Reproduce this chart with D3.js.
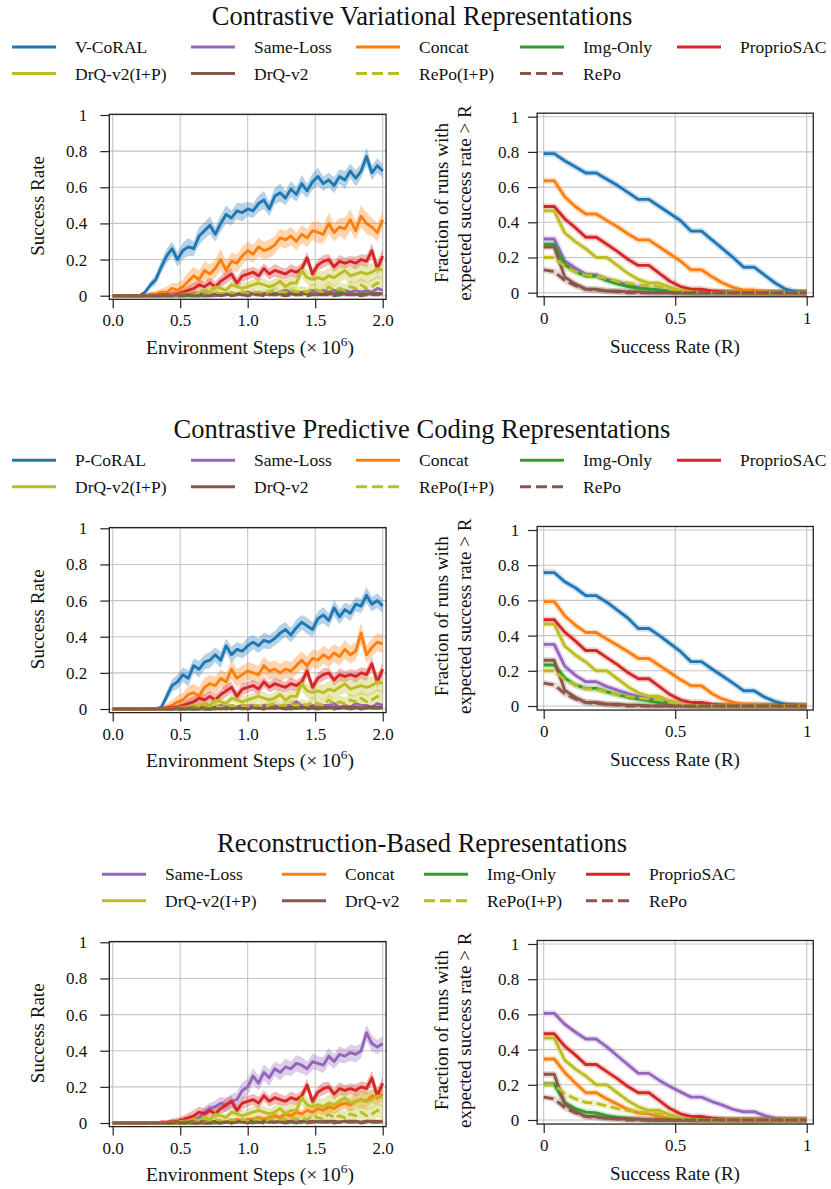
<!DOCTYPE html>
<html>
<head>
<meta charset="utf-8">
<script src="https://cdn.jsdelivr.net/npm/d3@7"></script>
<style>
body { margin: 0; background: #fff; }
text { font-family: "Liberation Serif", "Times New Roman", serif; fill: #111; }
</style>
</head>
<body>
<script>
// ---------- data ----------
const steps = [0,0.04,0.08,0.12,0.16,0.2,0.24,0.28,0.32,0.36,
  0.4,0.44,0.48,0.52,0.56,0.6,0.64,0.68,0.72,0.76,
  0.8,0.84,0.88,0.92,0.96,1,1.04,1.08,1.12,1.16,
  1.2,1.24,1.28,1.32,1.36,1.4,1.44,1.48,1.52,1.56,
  1.6,1.64,1.68,1.72,1.76,1.8,1.84,1.88,1.92,1.96,
  2];
const thresholds = [0,0.04,0.08,0.12,0.16,0.2,0.24,0.28,0.32,0.36,
  0.4,0.44,0.48,0.52,0.56,0.6,0.64,0.68,0.72,0.76,
  0.8,0.84,0.88,0.92,0.96,1];

const titles = ["Contrastive Variational Representations",
  "Contrastive Predictive Coding Representations",
  "Reconstruction-Based Representations"];

// shared baselines: learning curves
const proprioSac = [0,0,0,0,0,0,0,0,0,0.005,
  0.005,0.01,0.01,0.02,0.03,0.04,0.06,0.05,0.07,0.05,
  0.08,0.10,0.12,0.07,0.11,0.12,0.13,0.11,0.15,0.12,
  0.14,0.13,0.12,0.14,0.13,0.15,0.21,0.12,0.17,0.19,
  0.20,0.16,0.19,0.18,0.19,0.18,0.20,0.19,0.25,0.15,
  0.22];
const proprioSacSd = [0,0,0,0,0,0,0,0,0.005,0.01,
  0.01,0.015,0.02,0.02,0.025,0.03,0.03,0.03,0.03,0.03,
  0.03,0.035,0.03,0.03,0.035,0.03,0.03,0.035,0.03,0.03,
  0.035,0.03,0.03,0.035,0.03,0.03,0.035,0.03,0.03,0.035,
  0.03,0.03,0.035,0.03,0.03,0.035,0.03,0.035,0.04,0.035,
  0.04];
const drqIP = [0,0,0,0,0,0,0,0,0,0,
  0,0.005,0.005,0.01,0.01,0.02,0.015,0.03,0.02,0.05,
  0.04,0.03,0.06,0.05,0.04,0.05,0.06,0.07,0.06,0.05,
  0.06,0.08,0.05,0.07,0.07,0.14,0.10,0.09,0.10,0.09,
  0.11,0.10,0.12,0.14,0.11,0.12,0.13,0.12,0.13,0.15,
  0.14];
const drqIPSd = [0,0,0,0,0,0,0,0,0,0,
  0.005,0.005,0.01,0.01,0.01,0.015,0.015,0.02,0.02,0.02,
  0.025,0.02,0.025,0.025,0.03,0.03,0.03,0.03,0.035,0.03,
  0.035,0.035,0.035,0.035,0.04,0.04,0.04,0.04,0.04,0.045,
  0.045,0.045,0.045,0.05,0.045,0.05,0.05,0.05,0.05,0.05,
  0.05];
const repoIP = [0,0,0,0,0,0,0,0,0,0,
  0,0,0,0,0,0.005,0.01,0.005,0.01,0.02,
  0.01,0.01,0.02,0.01,0.02,0.01,0.02,0.02,0.01,0.02,
  0.03,0.02,0.02,0.03,0.02,0.03,0.02,0.04,0.03,0.02,
  0.05,0.03,0.04,0.03,0.05,0.04,0.06,0.04,0.05,0.07,
  0.06];
const repoIPSd = [0,0,0,0,0,0,0,0,0,0,
  0,0,0,0,0,0.005,0.005,0.005,0.01,0.01,
  0.01,0.01,0.01,0.01,0.015,0.015,0.015,0.015,0.02,0.02,
  0.02,0.02,0.02,0.025,0.025,0.025,0.025,0.03,0.03,0.03,
  0.03,0.03,0.035,0.035,0.035,0.035,0.04,0.04,0.04,0.04,
  0.04];
const drq = [0,0,0,0,0,0,0,0,0,0,
  0,0,0.005,0.005,0.005,0.01,0.005,0.01,0.005,0.01,
  0.01,0.005,0.01,0.01,0.005,0.01,0.01,0.005,0.01,0.01,
  0.005,0.01,0.01,0.01,0.005,0.01,0.01,0.01,0.005,0.01,
  0.01,0.01,0.005,0.01,0.01,0.01,0.005,0.01,0.01,0.01,
  0.01];
const repo = [0,0,0,0,0,0,0,0,0,0,
  0,0,0,0,0,0,0,0,0,0.005,
  0,0.005,0,0.005,0.005,0,0.005,0.005,0,0.005,
  0.005,0.005,0,0.005,0.005,0.005,0,0.005,0.005,0.005,
  0.005,0,0.005,0.005,0.005,0.005,0,0.005,0.005,0.005,
  0.005];

// row 1: contrastive variational
const vCoral = [0,0,0,0,0,0,0.02,0.06,0.09,0.16,
  0.22,0.26,0.20,0.25,0.27,0.26,0.33,0.36,0.39,0.34,
  0.40,0.45,0.43,0.47,0.46,0.48,0.47,0.51,0.53,0.48,
  0.55,0.57,0.54,0.59,0.56,0.62,0.58,0.63,0.66,0.62,
  0.64,0.61,0.66,0.64,0.69,0.65,0.69,0.77,0.68,0.72,
  0.69];
const vCoralSd = [0,0,0,0,0,0.005,0.01,0.02,0.03,0.035,
  0.04,0.04,0.04,0.045,0.05,0.04,0.05,0.045,0.05,0.04,
  0.045,0.05,0.04,0.045,0.05,0.04,0.04,0.045,0.05,0.04,
  0.045,0.05,0.04,0.045,0.04,0.05,0.04,0.045,0.05,0.04,
  0.04,0.045,0.04,0.05,0.04,0.045,0.04,0.05,0.04,0.04,
  0.04];
const concatV = [0,0,0,0,0,0,0,0.01,0.01,0.02,
  0.02,0.04,0.03,0.05,0.08,0.11,0.09,0.14,0.12,0.15,
  0.20,0.14,0.19,0.18,0.22,0.25,0.23,0.27,0.25,0.26,
  0.28,0.32,0.31,0.33,0.30,0.34,0.32,0.36,0.35,0.34,
  0.40,0.35,0.38,0.37,0.42,0.36,0.44,0.40,0.38,0.35,
  0.42];
const concatVSd = [0,0,0,0,0,0,0.005,0.01,0.015,0.02,
  0.03,0.03,0.04,0.04,0.05,0.05,0.05,0.05,0.05,0.05,
  0.06,0.05,0.05,0.05,0.05,0.05,0.05,0.05,0.05,0.05,
  0.05,0.05,0.05,0.05,0.05,0.05,0.05,0.05,0.06,0.05,
  0.06,0.05,0.05,0.06,0.06,0.05,0.06,0.06,0.05,0.05,
  0.05];
const sameLossV = [0,0,0,0,0,0,0,0,0,0,
  0,0,0,0,0,0,0,0,0,0,
  0.005,0.01,0.005,0.01,0.01,0.02,0.01,0.02,0.01,0.02,
  0.01,0.02,0.03,0.02,0.01,0.02,0.02,0.03,0.02,0.03,
  0.02,0.03,0.02,0.03,0.02,0.03,0.02,0.03,0.02,0.04,
  0.03];
const imgOnlyV = [0,0,0,0,0,0,0,0,0,0,
  0,0,0,0,0,0,0,0,0.005,0.005,
  0.01,0.005,0.01,0.01,0.005,0.01,0.01,0.01,0.005,0.01,
  0.01,0.01,0.005,0.01,0.01,0.015,0.01,0.01,0.005,0.01,
  0.01,0.01,0.015,0.01,0.01,0.005,0.01,0.01,0.01,0.015,
  0.01];

// row 2: contrastive predictive coding
const pCoral = [0,0,0,0,0,0,0,0,0,0.01,
  0.07,0.13,0.15,0.19,0.17,0.24,0.22,0.26,0.27,0.30,
  0.27,0.35,0.30,0.33,0.32,0.35,0.37,0.35,0.38,0.37,
  0.39,0.42,0.44,0.41,0.45,0.48,0.46,0.44,0.50,0.52,
  0.49,0.56,0.51,0.55,0.53,0.58,0.57,0.63,0.58,0.60,
  0.57];
const pCoralSd = [0,0,0,0,0,0,0,0,0.005,0.01,
  0.03,0.035,0.04,0.04,0.045,0.04,0.045,0.04,0.045,0.04,
  0.045,0.04,0.045,0.04,0.04,0.045,0.04,0.04,0.045,0.04,
  0.04,0.045,0.04,0.04,0.045,0.04,0.045,0.04,0.04,0.045,
  0.04,0.045,0.04,0.04,0.045,0.04,0.04,0.045,0.04,0.04,
  0.04];
const concatP = [0,0,0,0,0,0,0,0,0,0,
  0.01,0.02,0.04,0.05,0.08,0.09,0.07,0.12,0.14,0.13,
  0.17,0.15,0.22,0.17,0.19,0.21,0.20,0.19,0.24,0.21,
  0.22,0.20,0.22,0.21,0.24,0.27,0.24,0.28,0.27,0.30,
  0.28,0.31,0.29,0.33,0.30,0.32,0.42,0.30,0.34,0.37,
  0.36];
const concatPSd = [0,0,0,0,0,0,0,0,0.005,0.01,
  0.02,0.03,0.035,0.04,0.045,0.05,0.05,0.05,0.05,0.05,
  0.05,0.05,0.055,0.05,0.05,0.05,0.05,0.05,0.05,0.05,
  0.05,0.05,0.05,0.05,0.05,0.05,0.05,0.05,0.05,0.05,
  0.05,0.05,0.05,0.05,0.05,0.05,0.06,0.05,0.05,0.05,
  0.05];
const sameLossP = [0,0,0,0,0,0,0,0,0,0,
  0,0,0,0,0,0,0.005,0.01,0.005,0.01,
  0.02,0.01,0.02,0.01,0.02,0.015,0.02,0.01,0.02,0.015,
  0.02,0.01,0.02,0.02,0.04,0.02,0.01,0.02,0.01,0.02,
  0.02,0.03,0.01,0.02,0.01,0.03,0.02,0.02,0.01,0.03,
  0.02];
const imgOnlyP = [0,0,0,0,0,0,0,0,0,0,
  0,0,0,0,0,0,0,0,0,0,
  0.005,0,0.005,0.005,0,0.005,0.005,0.005,0,0.005,
  0.005,0.005,0.005,0,0.005,0.005,0.005,0.005,0,0.005,
  0.005,0.005,0.005,0.005,0,0.005,0.005,0.005,0.005,0.005,
  0.005];

// row 3: reconstruction based
const sameLossR = [0,0,0,0,0,0,0,0,0,0,
  0,0,0.005,0.01,0.01,0.02,0.03,0.06,0.08,0.09,
  0.11,0.10,0.12,0.13,0.18,0.20,0.26,0.22,0.28,0.25,
  0.30,0.28,0.31,0.30,0.33,0.32,0.30,0.34,0.33,0.32,
  0.37,0.34,0.38,0.37,0.39,0.38,0.40,0.50,0.44,0.42,
  0.44];
const sameLossRSd = [0,0,0,0,0,0,0,0,0,0,
  0,0.005,0.01,0.01,0.015,0.02,0.02,0.03,0.03,0.035,
  0.035,0.04,0.04,0.04,0.045,0.045,0.045,0.04,0.045,0.045,
  0.04,0.045,0.045,0.04,0.045,0.045,0.04,0.045,0.04,0.045,
  0.045,0.04,0.045,0.04,0.045,0.045,0.04,0.045,0.045,0.04,
  0.04];
const concatR = [0,0,0,0,0,0,0,0,0,0,
  0,0,0,0,0,0,0,0,0,0.005,
  0.01,0.005,0.01,0.02,0.01,0.02,0.02,0.03,0.02,0.03,
  0.04,0.03,0.05,0.04,0.06,0.05,0.07,0.06,0.08,0.07,
  0.09,0.08,0.10,0.11,0.10,0.12,0.13,0.12,0.15,0.14,
  0.16];
const concatRSd = [0,0,0,0,0,0,0,0,0,0,
  0,0,0,0,0,0,0,0,0,0.005,
  0.005,0.005,0.01,0.01,0.01,0.01,0.015,0.015,0.015,0.02,
  0.02,0.02,0.02,0.025,0.025,0.025,0.03,0.03,0.03,0.03,
  0.03,0.03,0.035,0.035,0.035,0.035,0.04,0.04,0.04,0.04,
  0.04];
const imgOnlyR = [0,0,0,0,0,0,0,0,0,0,
  0,0,0,0,0,0,0,0,0,0,
  0,0.005,0,0.005,0.005,0.005,0,0.005,0.005,0.005,
  0.005,0.005,0.005,0.005,0,0.005,0.005,0.005,0.01,0.005,
  0.005,0.005,0.005,0.01,0.005,0.005,0.005,0.01,0.005,0.005,
  0.005];

// performance profiles: fraction of runs with expected success rate > R
const profProprioSac = [0.49,0.49,0.42,0.37,0.315,0.315,0.275,0.235,0.19,0.155,
  0.155,0.11,0.065,0.035,0.02,0.02,0.01,0.005,0,0, 0,0,0,0,0,0];
const profDrqIP = [0.465,0.465,0.34,0.29,0.25,0.20,0.20,0.155,0.11,0.075,
  0.055,0.055,0.03,0.01,0.005,0,0,0,0,0, 0,0,0,0,0,0];
const profRepoIP = [0.20,0.20,0.15,0.12,0.10,0.095,0.08,0.065,0.055,0.045,
  0.04,0.035,0.02,0.01,0.005,0,0,0,0,0, 0,0,0,0,0,0];
const profDrq = [0.26,0.26,0.09,0.05,0.02,0.02,0.01,0.01,0.005,0.005,
  0,0,0,0,0,0,0,0,0,0, 0,0,0,0,0,0];
const profRepo = [0.13,0.12,0.07,0.04,0.02,0.015,0.01,0.005,0,0,
  0,0,0,0,0,0,0,0,0,0, 0,0,0,0,0,0];
const profVCoral = [0.79,0.79,0.75,0.715,0.68,0.68,0.645,0.61,0.57,0.53,
  0.53,0.49,0.45,0.41,0.35,0.35,0.30,0.25,0.20,0.145,
  0.145,0.10,0.055,0.02,0.005,0];
const profConcatV = [0.636,0.636,0.545,0.49,0.447,0.447,0.41,0.375,0.335,0.30,
  0.30,0.26,0.22,0.18,0.13,0.13,0.09,0.055,0.03,0.015,
  0.015,0.005,0,0,0,0];
const profSameLossV = [0.305,0.305,0.18,0.14,0.105,0.10,0.075,0.06,0.045,0.03,
  0.02,0.015,0.01,0.005,0,0,0,0,0,0, 0,0,0,0,0,0];
const profImgOnlyV = [0.275,0.275,0.16,0.12,0.095,0.095,0.07,0.05,0.035,0.025,
  0.02,0.015,0.005,0,0,0,0,0,0,0, 0,0,0,0,0,0];
const profPCoral = [0.758,0.758,0.706,0.672,0.627,0.627,0.59,0.545,0.5,0.44,
  0.44,0.4,0.355,0.31,0.252,0.252,0.21,0.17,0.13,0.087,
  0.087,0.05,0.025,0.01,0.005,0];
const profConcatP = [0.593,0.593,0.513,0.46,0.418,0.418,0.38,0.345,0.31,0.27,
  0.27,0.23,0.19,0.15,0.115,0.115,0.07,0.04,0.02,0.01,
  0.01,0.005,0,0,0,0];
const profSameLossP = [0.35,0.35,0.227,0.175,0.138,0.138,0.11,0.09,0.07,0.055,
  0.045,0.03,0.02,0.01,0.005,0,0,0,0,0, 0,0,0,0,0,0];
const profImgOnlyP = [0.233,0.233,0.16,0.12,0.10,0.10,0.08,0.065,0.05,0.04,
  0.03,0.02,0.01,0.005,0,0,0,0,0,0, 0,0,0,0,0,0];
const profSameLossR = [0.606,0.606,0.544,0.5,0.46,0.46,0.415,0.365,0.315,0.265,
  0.265,0.225,0.19,0.16,0.13,0.13,0.105,0.085,0.06,0.047,
  0.047,0.025,0.01,0.005,0.002,0];
const profConcatR = [0.347,0.347,0.27,0.21,0.155,0.155,0.12,0.09,0.06,0.04,
  0.035,0.02,0.01,0.005,0,0,0,0,0,0, 0,0,0,0,0,0];
const profImgOnlyR = [0.205,0.205,0.10,0.065,0.045,0.04,0.025,0.015,0.01,0.005,
  0,0,0,0,0,0,0,0,0,0, 0,0,0,0,0,0];

const yTicks = [0, 0.2, 0.4, 0.6, 0.8, 1];
const xTicksLeft = [0, 0.5, 1, 1.5, 2];
const xTicksRight = [0, 0.5, 1];

// ---------- style ----------
const C = {blue:"#1f77b4", orange:"#ff7f0e", green:"#2ca02c", red:"#d62728",
  purple:"#9467bd", brown:"#8c564b", olive:"#bcbd22"};

function baselines() {
  return [
    {name:"ProprioSAC", color:C.red, curve:proprioSac, sd:proprioSacSd, prof:profProprioSac},
    {name:"DrQ-v2(I+P)", color:C.olive, curve:drqIP, sd:drqIPSd, prof:profDrqIP},
    {name:"DrQ-v2", color:C.brown, curve:drq, prof:profDrq},
    {name:"RePo(I+P)", color:C.olive, dash:true, curve:repoIP, sd:repoIPSd, prof:profRepoIP},
    {name:"RePo", color:C.brown, dash:true, curve:repo, prof:profRepo}
  ];
}

const rows = [
  {title:titles[0], off:0, legendX:[12,191,356,520,677],
   series:[
     {name:"V-CoRAL", color:C.blue, curve:vCoral, sd:vCoralSd, prof:profVCoral},
     {name:"Same-Loss", color:C.purple, curve:sameLossV, prof:profSameLossV},
     {name:"Concat", color:C.orange, curve:concatV, sd:concatVSd, prof:profConcatV},
     {name:"Img-Only", color:C.green, curve:imgOnlyV, prof:profImgOnlyV}
   ].concat(baselines())},
  {title:titles[1], off:413.3, legendX:[12,191,356,520,677],
   series:[
     {name:"P-CoRAL", color:C.blue, curve:pCoral, sd:pCoralSd, prof:profPCoral},
     {name:"Same-Loss", color:C.purple, curve:sameLossP, prof:profSameLossP},
     {name:"Concat", color:C.orange, curve:concatP, sd:concatPSd, prof:profConcatP},
     {name:"Img-Only", color:C.green, curve:imgOnlyP, prof:profImgOnlyP}
   ].concat(baselines())},
  {title:titles[2], off:827.3, legendX:[102,282,424,586],
   series:[
     {name:"Same-Loss", color:C.purple, curve:sameLossR, sd:sameLossRSd, prof:profSameLossR},
     {name:"Concat", color:C.orange, curve:concatR, sd:concatRSd, prof:profConcatR},
     {name:"Img-Only", color:C.green, curve:imgOnlyR, prof:profImgOnlyR}
   ].concat(baselines())}
];

const svg = d3.select("body").append("svg")
  .attr("width", 831).attr("height", 1189);

function fmtTick(d) { return (d === 0 || d === 1) ? String(d) : d.toFixed(1); }

function drawGrid(g, xs, ys, xlim, ylim, xticks) {
  const x0 = xs(xlim[0]), x1 = xs(xlim[1]), y0 = ys(ylim[0]), y1 = ys(ylim[1]);
  g.append("g").selectAll("line").data(yTicks).enter().append("line")
    .attr("x1", x0).attr("x2", x1)
    .attr("y1", d => ys(d)).attr("y2", d => ys(d))
    .attr("stroke", "#c4c4c4").attr("stroke-width", 1.1);
  g.append("g").selectAll("line").data(xticks).enter().append("line")
    .attr("x1", d => xs(d)).attr("x2", d => xs(d))
    .attr("y1", y0).attr("y2", y1)
    .attr("stroke", "#c4c4c4").attr("stroke-width", 1.1);
  return {x0, x1, y0, y1};
}

function drawAxes(g, xs, ys, box, xticks, xfmt, ypad) {
  const ax = g.append("g").attr("transform", "translate(" + box.x0 + ",0)")
    .call(d3.axisLeft(ys).tickValues(yTicks).tickFormat(fmtTick).tickSize(9).tickPadding(ypad));
  const bx = g.append("g").attr("transform", "translate(0," + box.y0 + ")")
    .call(d3.axisBottom(xs).tickValues(xticks).tickFormat(xfmt).tickSize(9).tickPadding(6));
  [ax, bx].forEach(a => {
    a.select(".domain").remove();
    a.selectAll(".tick line").attr("stroke", "#222").attr("stroke-width", 1.2);
    a.selectAll(".tick text").attr("font-size", 17)
      .attr("font-family", "Liberation Serif").attr("fill", "#111");
  });
  g.append("rect").attr("x", box.x0).attr("y", box.y1)
    .attr("width", box.x1 - box.x0).attr("height", box.y0 - box.y1)
    .attr("fill", "none").attr("stroke", "#222").attr("stroke-width", 1.3);
}

rows.forEach(row => {
  const off = row.off;
  const g = svg.append("g");

  g.append("text").attr("x", 422).attr("y", off + 25)
    .attr("text-anchor", "middle").attr("font-size", 26.5).text(row.title);

  // legend, row-major
  const nc = row.legendX.length;
  row.series.forEach((s, i) => {
    const lx = row.legendX[i % nc], ly = off + 47 + Math.floor(i / nc) * 26.5;
    g.append("line").attr("x1", lx).attr("x2", lx + 44).attr("y1", ly).attr("y2", ly)
      .attr("stroke", s.color).attr("stroke-width", 3)
      .attr("stroke-dasharray", s.dash ? "11,5" : null);
    g.append("text").attr("x", lx + 63).attr("y", ly + 6).attr("font-size", 17.5).text(s.name);
  });

  // ---- left: learning curves ----
  const xs = d3.scaleLinear().domain([0, 2]).range([112.7, 382.7]);
  const ys = d3.scaleLinear().domain([0, 1]).range([off + 295.7, off + 115]);
  const fmtL = d => d.toFixed(1);
  const box = drawGrid(g, xs, ys, [-0.025, 2.025], [-0.02, 1.004], xTicksLeft);
  const band = d3.area().x((d, i) => xs(steps[i]))
    .y0(d => ys(Math.max(0, d[0] - d[1]))).y1(d => ys(d[0] + d[1]));
  const line = d3.line().x((d, i) => xs(steps[i])).y(d => ys(d));
  const plotL = g.append("g");
  row.series.forEach(s => {
    if (s.sd) {
      plotL.append("path").datum(s.curve.map((v, i) => [v, s.sd[i]]))
        .attr("d", band).attr("fill", s.color).attr("fill-opacity", 0.33);
    }
  });
  row.series.forEach(s => {
    plotL.append("path").datum(s.curve).attr("d", line)
      .attr("fill", "none").attr("stroke", s.color).attr("stroke-width", 2.9)
      .attr("stroke-linejoin", "round")
      .attr("stroke-dasharray", s.dash ? "9,4" : null);
  });
  drawAxes(g, xs, ys, box, xTicksLeft, fmtL, 13);

  const xl = g.append("text").attr("x", 250).attr("y", off + 354).attr("text-anchor", "middle")
    .attr("font-size", 19.5);
  xl.append("tspan").text("Environment Steps (\u00d7\u200910");
  xl.append("tspan").attr("dy", -8).attr("font-size", 13.5).text("6");
  xl.append("tspan").attr("dy", 8).text(")");
  g.append("text").attr("text-anchor", "middle").attr("font-size", 19)
    .attr("transform", "translate(44," + (off + 206) + ") rotate(-90)")
    .text("Success Rate");

  // ---- right: performance profiles ----
  const xr = d3.scaleLinear().domain([0, 1]).range([543.7, 806.7]);
  const yr = d3.scaleLinear().domain([0, 1]).range([off + 292.7, off + 116.7]);
  const boxR = drawGrid(g, xr, yr, [-0.025, 1.025], [-0.023, 1.02], xTicksRight);
  const lineR = d3.line().x((d, i) => xr(thresholds[i])).y(d => yr(d));
  const plotR = g.append("g");
  row.series.forEach(s => {
    plotR.append("path").datum(s.prof).attr("d", lineR)
      .attr("fill", "none").attr("stroke", s.color).attr("stroke-width", 6.5)
      .attr("stroke-opacity", 0.22).attr("stroke-linejoin", "round");
  });
  row.series.forEach(s => {
    plotR.append("path").datum(s.prof).attr("d", lineR)
      .attr("fill", "none").attr("stroke", s.color).attr("stroke-width", 2.9)
      .attr("stroke-linejoin", "round")
      .attr("stroke-dasharray", s.dash ? "10,4.5" : null);
  });
  drawAxes(g, xr, yr, boxR, xTicksRight, fmtTick, 9);

  g.append("text").attr("x", 675).attr("y", off + 353).attr("text-anchor", "middle")
    .attr("font-size", 19).text("Success Rate (R)");
  g.append("text").attr("text-anchor", "middle").attr("font-size", 19)
    .attr("transform", "translate(448," + (off + 203) + ") rotate(-90)")
    .text("Fraction of runs with");
  g.append("text").attr("text-anchor", "middle").attr("font-size", 19)
    .attr("transform", "translate(471," + (off + 203) + ") rotate(-90)")
    .text("expected success rate > R");
});
</script>
</body>
</html>
